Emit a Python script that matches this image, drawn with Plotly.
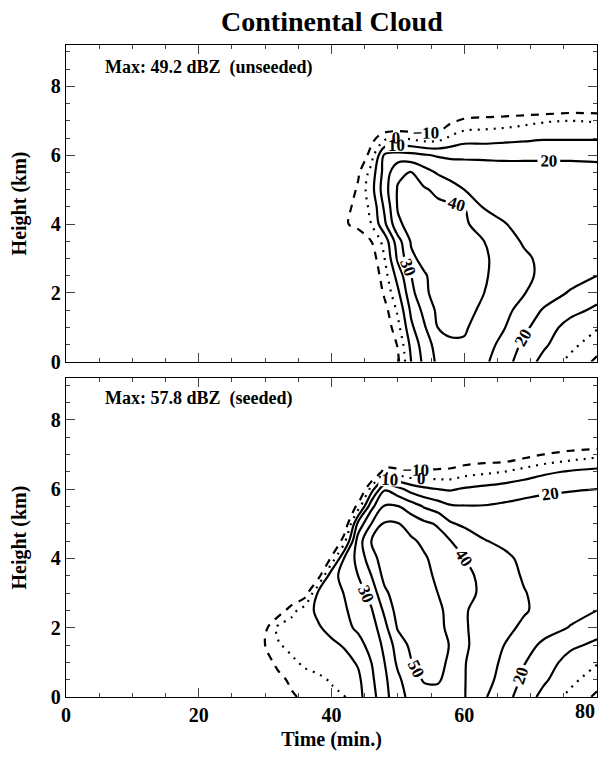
import plotly.graph_objects as go

# ---------------- data (dBZ) ----------------
HEIGHTS = [0, 0.5, 1, 1.5, 2, 2.5, 3, 3.5, 4, 4.5, 5, 5.5, 6, 6.5, 7, 7.5, 8, 9]

TIME_UNSEEDED = [0, 40, 42, 44, 46, 48, 50, 52, 54, 56, 58, 60, 63, 66, 69, 72, 76, 80]
DBZ_UNSEEDED = [
    [-30, -30, -30, -30, -30, -25, -12, 10, 23, 32, 37, 38, 32, 24, 15, 7, -3, -12],
    [-30, -30, -30, -30, -30, -22, -9, 13, 25, 34, 38.5, 39, 34, 27, 18, 11.5, 3, -6],
    [-30, -30, -30, -30, -28, -18, -3, 18, 29, 40, 42, 41, 36, 30.5, 22, 15, 6, 1],
    [-30, -30, -30, -30, -26, -14, 2, 22, 33, 42, 44, 43, 38, 33, 26, 19, 13, 8],
    [-30, -30, -30, -30, -24, -8, 8, 27, 38, 44, 45, 44, 40, 35, 30.5, 25, 19, 14],
    [-30, -30, -30, -28, -20, -4, 14, 30, 39, 44, 45, 44, 41, 36, 32, 28, 24, 20],
    [-30, -30, -30, -26, -16, 0, 22, 38, 43, 45, 45, 44, 41, 37, 31.5, 28, 26, 23],
    [-30, -30, -30, -22, -10, 4, 26, 41, 44, 45, 45, 44, 40, 34, 29, 27, 25, 24],
    [-30, -28, -12, -5, 0, 18, 38, 44, 45, 44, 43, 41, 37, 30.5, 27, 26, 25, 25],
    [-30, -25, -14, -6, 2, 22, 41, 44, 43, 42, 42, 40, 29, 27, 26, 25, 25, 25],
    [-30, -25, -20, -8, 6, 26, 41, 42, 41, 38, 33, 30, 28, 26, 25, 25, 25, 25],
    [-30, -28, -24, -12, 4, 24, 38, 40.5, 34, 29, 27, 26, 25, 24, 24, 24, 24, 23],
    [-30, -30, -30, -22, -5, 22, 24, 23, 21, 19, 18, 18, 18, 18, 18, 18, 18, 18],
    [-30, -30, -30, -30, -14, -3, 0, -2, -5, -4, 2, 6, 6, 7, 8, 9, 9, 9],
    [-30, -30, -30, -30, -25, -25, -25, -25, -25, -22, -12, -8, -6, -5, -3, -1, 0, -1],
    [-30, -30, -30, -30, -30, -30, -30, -30, -30, -30, -25, -25, -25, -25, -25, -25, -22, -22],
    [-30] * 18,
    [-30] * 18,
]

TIME_SEEDED = [0, 26, 28, 30, 32, 34, 36, 38, 40, 42, 44, 46, 48, 50, 52, 54, 56, 58, 60, 63, 66, 69, 72, 76, 80]
DBZ_SEEDED = [
    [-30, -30, -30, -30, -22, -12, -7, -4.5, -2.5, -0.5, 7, 16, 27, 36, 43, 46, 47, 45, 40.5, 31, 24, 15, 7, -3, -12],
    [-30, -30, -30, -25, -14, -7, -4, -2, 1, 3, 8, 18, 28, 38, 46, 51, 51, 47, 40.5, 33, 27, 18, 11.5, 3, -6],
    [-30, -30, -25, -16, -6, -2, 2, 4, 5, 7, 11, 20, 30, 42, 49.5, 54, 53, 48, 40.5, 35, 28, 20.5, 15, 6, 1],
    [-30, -28, -20, -10, -1, 3, 5, 6.5, 8, 11, 16, 24, 32, 45, 52, 56, 55, 49, 41, 37, 30, 24, 18, 12, 8],
    [-30, -27, -20, -13, 3, 6, 7, 9, 13, 17, 22, 25, 37, 51, 55, 57, 52, 48, 40.5, 38, 33, 28, 24, 19.5, 14],
    [-30, -30, -28, -24, -17, -4, 6, 12, 16, 19, 24, 29, 42, 54, 57, 57.8, 52, 47, 40.5, 38, 35, 31, 27, 23, 20],
    [-30, -30, -30, -30, -28, -24, -16, 12, 16, 20.5, 25, 34, 48, 55, 57, 56, 50, 46, 43, 38, 34, 30.5, 27, 25, 23],
    [-30, -30, -30, -30, -30, -30, -28, -15, 18, 22, 30, 40, 53, 56, 56, 53, 48, 45, 42, 38, 34, 29, 27, 26, 25],
    [-30, -30, -30, -30, -30, -30, -30, -28, -8, 22, 33, 46, 55, 56, 54, 51, 47, 44, 40, 36, 32, 28, 26, 25, 25],
    [-30, -30, -30, -30, -30, -30, -30, -30, -30, -2, 35, 50, 55, 54, 51.5, 48, 44, 40, 37, 30.5, 28, 26, 25, 25, 25],
    [-30, -30, -30, -30, -30, -30, -30, -30, -30, -20, 23, 40, 51, 50.5, 46, 42, 39, 31, 28, 26, 25, 24, 24, 24, 24],
    [-30, -30, -30, -30, -30, -30, -30, -30, -30, -30, -6, 27, 41, 40.5, 35, 29, 25, 21, 20.5, 20.5, 21.5, 22.5, 23, 23, 23],
    [-30, -30, -30, -30, -30, -30, -30, -30, -30, -30, -30, 5, 29, 23, 16, 12, 10, 9, 11, 13, 15, 17, 18.5, 19.5, 20],
    [-30, -30, -30, -30, -30, -30, -30, -30, -30, -30, -30, -30, -4, -6, -9, -8, -7.5, -7, -4, -2, 0, 4, 8, 11, 13],
    [-30, -30, -30, -30, -30, -30, -30, -30, -30, -30, -30, -30, -30, -28, -28, -26, -24, -22, -20, -18, -18, -14, -10, -6, -3],
    [-30, -30, -30, -30, -30, -30, -30, -30, -30, -30, -30, -30, -30, -30, -30, -30, -30, -28, -28, -27, -27, -26, -25, -25, -25],
    [-30] * 25,
    [-30] * 25,
]

PANEL_TEXT = ["Max: 49.2 dBZ  (unseeded)", "Max: 57.8 dBZ  (seeded)"]
X_TICKS = [0, 20, 40, 60, 80]
X_TICK_TEXT = ["0", "20", "40", "60", ""]   # the last label is drawn right-aligned below
LAST_X_LABEL = "80"
Y_TICKS = [0, 2, 4, 6, 8]

# ---------------- figure ----------------
SERIF = "Liberation Serif"
BLACK = [[0, "black"], [1, "black"]]

fig = go.Figure()


def add_panel(times, z, xa, ya):
    styles = [
        (-10, -10, "8px,7px"),
        (0, 0, "2px,6px"),
        (10, 50, "solid"),
    ]
    for start, end, dash in styles:
        fig.add_trace(go.Contour(
            x=times, y=HEIGHTS, z=z,
            autocontour=False,
            contours=dict(start=start, end=end, size=10, coloring="lines",
                          showlabels=True,
                          labelfont=dict(family=SERIF, size=17, color="black", weight="bold")),
            line=dict(width=2.2, dash=dash, smoothing=1.0),
            colorscale=BLACK, showscale=False, hoverinfo="skip",
            xaxis=xa, yaxis=ya,
        ))


add_panel(TIME_UNSEEDED, DBZ_UNSEEDED, "x", "y")
add_panel(TIME_SEEDED, DBZ_SEEDED, "x2", "y2")

tickfont = dict(family=SERIF, size=20, color="black", weight="bold")
common_x = dict(range=[0, 80], tickvals=X_TICKS, ticktext=X_TICK_TEXT, ticks="inside", ticklen=9,
                tickwidth=1.3, minor=dict(dtick=5, ticks="inside", ticklen=4, tickwidth=1),
                showline=True, linecolor="black", linewidth=1.3, mirror="ticks",
                showgrid=False, zeroline=False, tickfont=tickfont, automargin=False)
common_y = dict(range=[0, 9.2], tickvals=Y_TICKS, ticks="inside", ticklen=9,
                tickwidth=1.3, minor=dict(dtick=0.5, ticks="inside", ticklen=4, tickwidth=1),
                showline=True, linecolor="black", linewidth=1.3, mirror="ticks",
                showgrid=False, zeroline=False, tickfont=tickfont, automargin=False,
                title=dict(text="Height (km)", standoff=18,
                           font=dict(family=SERIF, size=20, color="black", weight="bold")))

fig.update_layout(
    width=609, height=768,
    margin=dict(l=66, r=12, t=45, b=71),
    paper_bgcolor="white", plot_bgcolor="white",
    showlegend=False,
    title=dict(text="Continental Cloud", x=0.545, xanchor="center", y=0.972, yanchor="middle",
               font=dict(family=SERIF, size=28, color="black", weight="bold")),
    xaxis=dict(common_x, domain=[0, 1], anchor="y", showticklabels=False),
    yaxis=dict(common_y, domain=[0.514, 1], anchor="x"),
    xaxis2=dict(common_x, domain=[0, 1], anchor="y2",
                title=dict(text="Time (min.)", standoff=6,
                           font=dict(family=SERIF, size=20, color="black", weight="bold"))),
    yaxis2=dict(common_y, domain=[0, 0.489], anchor="x2"),
)

fig.add_annotation(text=LAST_X_LABEL, xref="x2", yref="y2 domain", x=X_TICKS[-1], y=0,
                   xanchor="right", yanchor="top", yshift=-1, showarrow=False,
                   font=tickfont)

fig.add_annotation(text=PANEL_TEXT[0], xref="x", yref="y", x=5.5, y=8.55,
                   xanchor="left", yanchor="middle", showarrow=False,
                   font=dict(family=SERIF, size=18, color="black", weight="bold"))
fig.add_annotation(text=PANEL_TEXT[1], xref="x2", yref="y2", x=5.5, y=8.6,
                   xanchor="left", yanchor="middle", showarrow=False,
                   font=dict(family=SERIF, size=18, color="black", weight="bold"))

fig.write_html(
    "out.html",
    config={"displayModeBar": False},
    post_script="document.body.style.margin='0';document.body.style.overflow='hidden';",
)
